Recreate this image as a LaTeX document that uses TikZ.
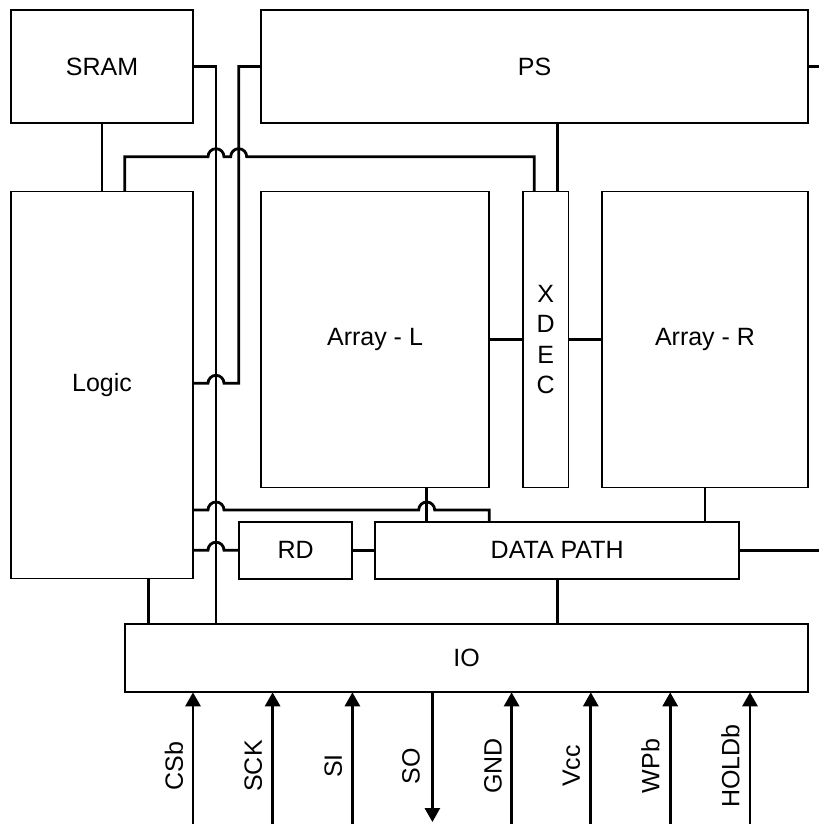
\documentclass[tikz,border=0pt]{standalone}
\usepackage{fontspec}
\setmainfont{Liberation Sans}
\usetikzlibrary{arrows.meta}
\begin{document}
\begin{tikzpicture}[x=1pt,y=-1pt,
  box/.style={draw,line width=1.8pt,inner sep=0pt,outer sep=0pt,rectangle,align=center,font=\fontsize{25}{30.5}\selectfont},
  wire/.style={line width=2.8pt},
  pin/.style={wire,-{Triangle[length=14pt,width=15pt]}},
  lbl/.style={rotate=90,font=\fontsize{25}{30}\selectfont,inner sep=0pt}]
\useasboundingbox (0,0) rectangle (819,824);
% boxes
\node[box,minimum width=182pt,minimum height=113pt] (sram) at (102,66.5) {SRAM};
\node[box,minimum width=547pt,minimum height=113pt] (ps) at (534.5,66.5) {PS};
\node[box,minimum width=182pt,minimum height=387pt] (logic) at (102,385) {Logic};
\node[box,minimum width=228pt,minimum height=296pt] (arrL) at (375,339.5) {Array - L};
\node[box,minimum width=45.5pt,minimum height=296pt] (xdec) at (545.75,339.5) {X\\D\\E\\C};
\node[box,minimum width=206pt,minimum height=296pt] (arrR) at (705,339.5) {Array - R};
\node[box,minimum width=113.3pt,minimum height=57pt] (rd) at (295.65,550.2) {RD};
\node[box,minimum width=364.3pt,minimum height=57pt] (dp) at (557.15,550.2) {DATA PATH};
\node[box,minimum width=683pt,minimum height=68.3pt] (io) at (466.5,658.15) {IO};
% free ends
\coordinate (psout) at (819,66.5);
\coordinate (dpout) at (819,550.2);
% connectors
\draw[wire] (sram.south) -- (logic.north);
\draw[wire] (sram.east) -| (io.north -| 216,0);
\draw[wire] (ps.west) -| (238.7,383.3) -- (224,383.3) arc[start angle=0,end angle=180,radius=8pt] -- (logic.east |- 0,383.3);
\draw[wire] (logic.north -| 124.7,0) |- (208,156.7) arc[start angle=180,end angle=0,radius=8pt] -- (230.7,156.7) arc[start angle=180,end angle=0,radius=8pt] -- (534.3,156.7) -- (xdec.north -| 534.3,0);
\draw[wire] (ps.south -| 557.7,0) -- (xdec.north -| 557.7,0);
\draw[wire] (ps.east) -- (psout);
\draw[wire] (arrL.east) -- (xdec.west);
\draw[wire] (xdec.east) -- (arrR.west);
\draw[wire] (logic.east |- 0,510) -- (208,510) arc[start angle=180,end angle=0,radius=8pt] -- (418.7,510) arc[start angle=180,end angle=0,radius=8pt] -- (489.3,510) -- (dp.north -| 489.3,0);
\draw[wire] (arrL.south -| 426.7,0) -- (dp.north -| 426.7,0);
\draw[wire] (logic.east |- rd.west) -- (208,550.2) arc[start angle=180,end angle=0,radius=8pt] -- (rd.west);
\draw[wire] (rd.east) -- (dp.west);
\draw[wire] (dp.east) -- (dpout);
\draw[wire] (arrR.south) -- (dp.north -| arrR.south);
\draw[wire] (logic.south -| 148.3,0) -- (io.north -| 148.3,0);
\draw[wire] (dp.south) -- (io.north -| dp.south);
% pins
\coordinate (pa) at (193,824);
\coordinate (pb) at (272.6,824);
\coordinate (pc) at (352.4,824);
\coordinate (pd) at (432.4,822);
\coordinate (pe) at (511.6,824);
\coordinate (pf) at (590.8,824);
\coordinate (pg) at (670.2,824);
\coordinate (ph) at (750,824);
\draw[pin] (pa) -- (io.south -| pa);
\draw[pin] (pb) -- (io.south -| pb);
\draw[pin] (pc) -- (io.south -| pc);
\draw[pin] (io.south -| pd) -- (pd);
\draw[pin] (pe) -- (io.south -| pe);
\draw[pin] (pf) -- (io.south -| pf);
\draw[pin] (pg) -- (io.south -| pg);
\draw[pin] (ph) -- (io.south -| ph);
\node[lbl] (la) at (174,766) {CSb};
\node[lbl] (lb) at (253.3,766) {SCK};
\node[lbl] (lc) at (333.3,766) {SI};
\node[lbl] (ld) at (411,766) {SO};
\node[lbl] (le) at (493,766) {GND};
\node[lbl] (lf) at (571.5,766) {Vcc};
\node[lbl] (lg) at (650.5,766) {WPb};
\node[lbl] (lh) at (730.5,766) {HOLDb};
\end{tikzpicture}
\end{document}
